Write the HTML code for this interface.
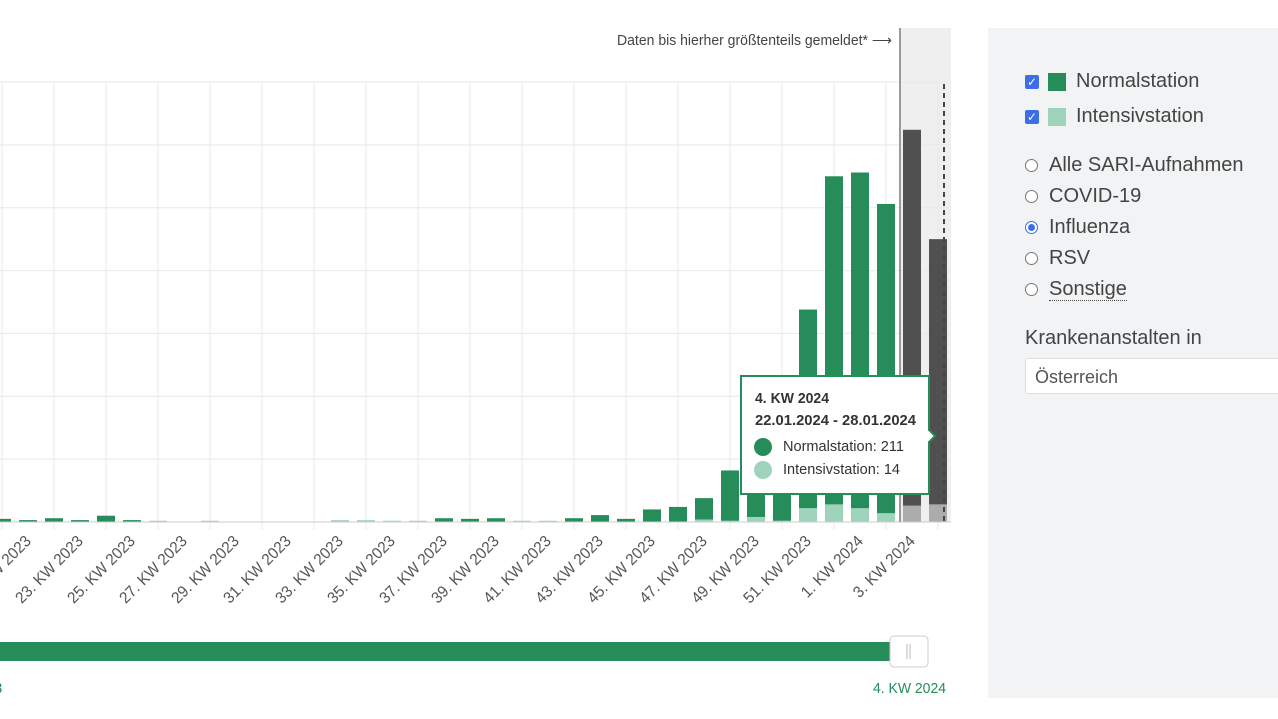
<!DOCTYPE html>
<html><head><meta charset="utf-8">
<style>
body{margin:0;width:1278px;height:719px;overflow:hidden;background:#fff;font-family:"Liberation Sans",sans-serif;position:relative}
.panel{position:absolute;left:988px;top:28px;width:290px;height:670px;background:#f1f3f4}
.row{position:absolute;left:37px;font-size:20px;color:#444;display:flex;align-items:center}
.cb{width:14px;height:14px;background:#3b6ee8;border-radius:2px;color:#fff;font-size:12px;line-height:14px;text-align:center;margin-right:9px}
.sw{width:18px;height:18px;margin-right:10px}
.rd{width:11px;height:11px;border:1px solid #777;border-radius:50%;background:#fff;margin-right:11px;position:relative}
.rd.on{border-color:#3b6ee8}
.rd.on::after{content:"";position:absolute;left:2px;top:2px;width:7px;height:7px;border-radius:50%;background:#3b6ee8}
</style></head><body>
<svg id="chart" width="960" height="719" style="position:absolute;left:0;top:0" font-family="Liberation Sans, sans-serif"></svg>
<div class="panel">
 <div class="row" style="top:42px"><div class="cb">✓</div><div class="sw" style="background:#268c5a"></div>Normalstation</div>
 <div class="row" style="top:77px"><div class="cb">✓</div><div class="sw" style="background:#9fd3bc"></div>Intensivstation</div>
 <div class="row" style="top:126px"><div class="rd"></div>Alle SARI-Aufnahmen</div>
 <div class="row" style="top:157px"><div class="rd"></div>COVID-19</div>
 <div class="row" style="top:188px"><div class="rd on"></div>Influenza</div>
 <div class="row" style="top:219px"><div class="rd"></div>RSV</div>
 <div class="row" style="top:250px"><div class="rd"></div><span style="border-bottom:1px dotted #444;line-height:22px">Sonstige</span></div>
 <div class="row" style="top:299px">Krankenanstalten in</div>
 <div style="position:absolute;left:37px;top:330px;width:260px;height:36px;background:#fff;border:1px solid #ddd;border-radius:3px;font-size:18px;color:#555;line-height:36px;padding-left:9px;box-sizing:border-box">Österreich</div>
</div>
<script>
const weeks=["20. KW 2023","21. KW 2023","22. KW 2023","23. KW 2023","24. KW 2023","25. KW 2023","26. KW 2023","27. KW 2023","28. KW 2023","29. KW 2023","30. KW 2023","31. KW 2023","32. KW 2023","33. KW 2023","34. KW 2023","35. KW 2023","36. KW 2023","37. KW 2023","38. KW 2023","39. KW 2023","40. KW 2023","41. KW 2023","42. KW 2023","43. KW 2023","44. KW 2023","45. KW 2023","46. KW 2023","47. KW 2023","48. KW 2023","49. KW 2023","50. KW 2023","51. KW 2023","52. KW 2023","1. KW 2024","2. KW 2024","3. KW 2024","4. KW 2024"];
const normal=[2.5,1.5,3,1.5,5,1.5,0,0,0,0,0,0,0,0,0,0,0,3,2.5,3,0,0,3,5.5,2.5,10,12,17,40,80,100,158,261,267,246,299,211];
const intensive=[0,0,0,0,0,0,1,0,1,0,0,0,0,1.5,1.5,1,1,0,0,0,1,1,0,0,0,0,0,2,1,4,1,11,14,11,7,13,14];
const incomplete=[false,false,false,false,false,false,false,false,false,false,false,false,false,false,false,false,false,false,false,false,false,false,false,false,false,false,false,false,false,false,false,false,false,false,false,true,true];
const yTicks=[0,50,100,150,200,250,300,350];
const svg=document.getElementById('chart');const NS='http://www.w3.org/2000/svg';
function mk(t,a,p){const e=document.createElementNS(NS,t);for(const k in a)e.setAttribute(k,a[k]);(p||svg).appendChild(e);return e;}
const x=i=>938-26*(weeks.length-1-i);
const y=v=>522-v*(440/350);
let e=mk('rect',{x:900,y:28,width:51,height:494,fill:'#efefef'});


yTicks.forEach(v=>{const g=mk('line',{x1:0,x2:951,y1:y(v),y2:y(v),stroke:'#e8e8e8','stroke-width':1});

});
weeks.forEach((w,i)=>{if(i%2===0){const g=mk('line',{x1:x(i),x2:x(i),y1:82,y2:530,stroke:'#e8e8e8','stroke-width':1});

}});
weeks.forEach((w,i)=>{
 const c=x(i),bw=18;
 const yi=y(intensive[i]),yn=y(intensive[i]+normal[i]);
 if(intensive[i]>0){const r=mk('rect',{x:c-bw/2,y:yi,width:bw,height:522-yi,fill:incomplete[i]?'#acacac':'#9fd3bc'});
 
 }
 if(normal[i]>0){const r=mk('rect',{x:c-bw/2,y:yn,width:bw,height:yi-yn,fill:incomplete[i]?'#505050':'#268c5a'});
 
 }
 if(i%2===1){const t=mk('text',{x:c+4,y:542,'font-size':16,fill:'#555','text-anchor':'end',textLength:w.length*8,lengthAdjust:'spacingAndGlyphs',transform:`rotate(-45 ${c+4} 542)`});t.textContent=w;
 
 }
});
e=mk('line',{x1:0,x2:951,y1:522,y2:522,stroke:'#ccc','stroke-width':1});


e=mk('line',{x1:900,x2:900,y1:28,y2:522,stroke:'#9a9a9a','stroke-width':2});


e=mk('line',{x1:944,x2:944,y1:84,y2:522,stroke:'#444','stroke-width':2,'stroke-dasharray':'5,4'});


e=mk('text',{x:892,y:45,'font-size':15,fill:'#444','text-anchor':'end',textLength:275,lengthAdjust:'spacingAndGlyphs'});e.textContent='Daten bis hierher größtenteils gemeldet* ⟶';


const tg=mk('g',{});


mk('path',{d:'M741 376 H929 V430 L935 436 L929 442 V494 H741 Z',fill:'#fff',stroke:'#268c5a','stroke-width':2},tg);
let t=mk('text',{x:755,y:403,'font-size':15,'font-weight':'bold',fill:'#333',textLength:74,lengthAdjust:'spacingAndGlyphs'},tg);t.textContent='4. KW 2024';
t=mk('text',{x:755,y:425,'font-size':15,'font-weight':'bold',fill:'#333',textLength:161,lengthAdjust:'spacingAndGlyphs'},tg);t.textContent='22.01.2024 - 28.01.2024';
mk('circle',{cx:763,cy:447,r:9,fill:'#268c5a'},tg);
t=mk('text',{x:783,y:451,'font-size':15,fill:'#333',textLength:121,lengthAdjust:'spacingAndGlyphs'},tg);t.textContent='Normalstation: '+normal[normal.length-1];
mk('circle',{cx:763,cy:470,r:9,fill:'#9fd3bc'},tg);
t=mk('text',{x:783,y:474,'font-size':15,fill:'#333',textLength:117,lengthAdjust:'spacingAndGlyphs'},tg);t.textContent='Intensivstation: '+intensive[intensive.length-1];
e=mk('rect',{x:0,y:642,width:905,height:19,fill:'#268c5a'});


e=mk('rect',{x:890,y:636,width:38,height:31,rx:4,fill:'#fff',stroke:'#ccc'});


mk('line',{x1:907,x2:907,y1:644,y2:659,stroke:'#bbb'});mk('line',{x1:910,x2:910,y1:644,y2:659,stroke:'#bbb'});
e=mk('text',{x:946,y:693,'font-size':15,fill:'#268c5a','text-anchor':'end',textLength:73,lengthAdjust:'spacingAndGlyphs'});e.textContent='4. KW 2024';


e=mk('text',{x:-6,y:693,'font-size':15,fill:'#268c5a'});e.textContent='3';


</script>
</body></html>
